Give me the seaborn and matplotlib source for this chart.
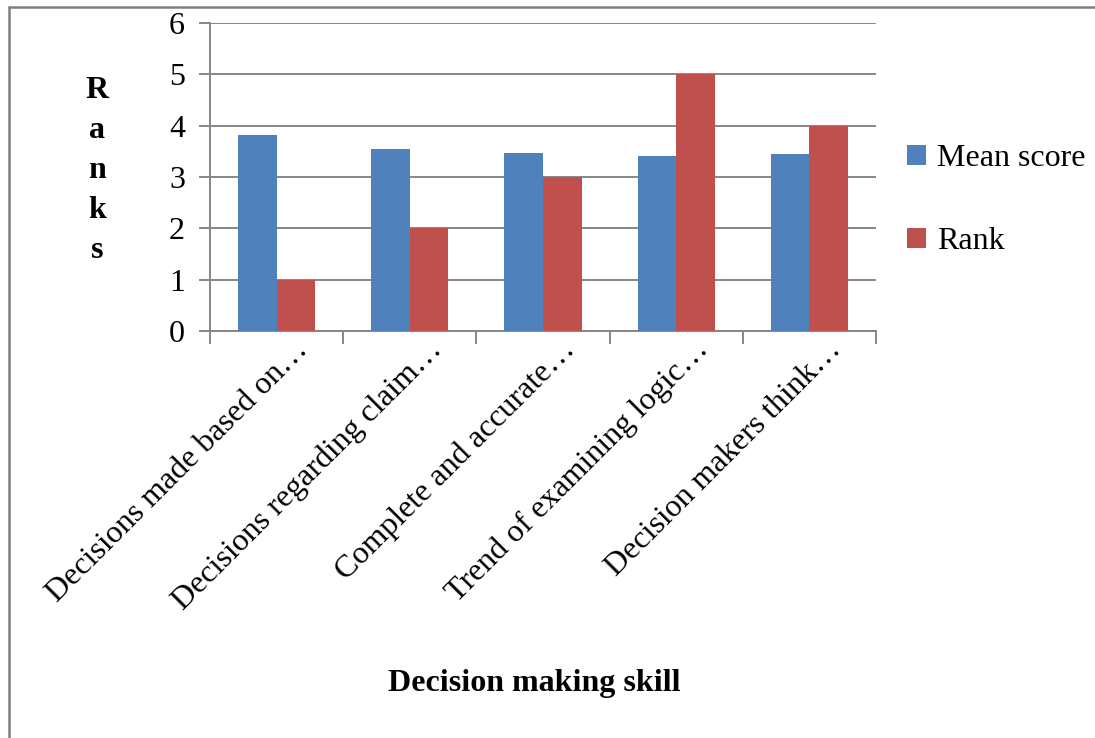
import matplotlib
matplotlib.use("Agg")
import matplotlib.pyplot as plt
import matplotlib.transforms as mtransforms
from matplotlib.patches import Patch
import numpy as np
import pandas as pd
import seaborn as sns

# Skill items and their scores
skills = [
    "Decisions made based on\u2026",
    "Decisions regarding claim\u2026",
    "Complete and accurate\u2026",
    "Trend of examining logic\u2026",
    "Decision makers think\u2026",
]
mean_score = [3.82, 3.55, 3.47, 3.40, 3.45]
rank = [1, 2, 3, 5, 4]
series_names = ["Mean score", "Rank"]
y_ticks = [0, 1, 2, 3, 4, 5, 6]

df = pd.DataFrame({
    "skill": skills * 2,
    "value": mean_score + rank,
    "series": [series_names[0]] * len(skills) + [series_names[1]] * len(skills),
})

sns.set_theme(style="white")
plt.rcParams["font.family"] = ["Liberation Serif", "DejaVu Serif"]
plt.rcParams["text.color"] = "black"
plt.rcParams["xtick.color"] = "black"
plt.rcParams["ytick.color"] = "black"

FS = 23
palette = {"Mean score": "#4F81BD", "Rank": "#C0504D"}
grid_col = "#878787"

fig = plt.figure(figsize=(10.95, 7.38), dpi=100)
ax = fig.add_axes([210 / 1095, 1 - 331 / 738, (876 - 210) / 1095, (331 - 23) / 738])

sns.barplot(data=df, x="skill", y="value", hue="series", palette=palette,
            width=0.58, saturation=1, ax=ax, legend=False, zorder=3,
            linewidth=0, edgecolor="none")

ax.set_ylim(0, 6)
ax.set_xlim(-0.5, len(skills) - 0.5)
ax.set_yticks(y_ticks)
ax.set_yticklabels([str(t) for t in y_ticks], fontsize=FS)
ax.yaxis.grid(True, color=grid_col, linewidth=1.4, zorder=0)
ax.set_axisbelow(True)

for s in ["top", "right"]:
    ax.spines[s].set_visible(False)
for s in ["left", "bottom"]:
    ax.spines[s].set_color(grid_col)
    ax.spines[s].set_linewidth(1.4)

ax.tick_params(axis="y", which="major", direction="out", length=8, width=1.4,
               color=grid_col, labelcolor="black", pad=10, left=True)

# Category separators as minor ticks; labels sit on the major positions
ax.set_xticks(np.arange(len(skills)))
ax.set_xticks(np.arange(-0.5, len(skills), 1.0), minor=True)
ax.tick_params(axis="x", which="major", length=0, pad=0, labelcolor="black")
ax.tick_params(axis="x", which="minor", direction="out", length=9, width=1.4,
               color=grid_col, bottom=True)
ax.set_xticklabels(skills, fontsize=FS, rotation=45, ha="right", va="top",
                   rotation_mode="anchor")
shift = mtransforms.ScaledTranslation(17 / 100, -4 / 100, fig.dpi_scale_trans)
for lbl in ax.get_xticklabels():
    lbl.set_transform(lbl.get_transform() + shift)

ax.set_xlabel("")
ax.set_ylabel("")

# Stacked vertical axis title
fig.text(97 / 1095, 1 - 171 / 738, "R\na\nn\nk\ns", ha="center", va="center",
         fontsize=FS, fontweight="bold", linespacing=1.5)
fig.text(534 / 1095, 1 - 683 / 738, "Decision making skill", ha="center",
         va="center", fontsize=FS, fontweight="bold")

handles = [Patch(facecolor=palette[n], edgecolor="none") for n in series_names]
fig.legend(handles, series_names, loc="upper left",
           bbox_to_anchor=(907 / 1095, 1 - 144 / 738), frameon=False,
           fontsize=FS, handlelength=0.6, handleheight=0.6, handletextpad=0.35,
           labelspacing=1.7, borderpad=0, borderaxespad=0)

# Outer frame of the chart area
fig.add_artist(plt.Line2D([9 / 1095, 9 / 1095], [0, 1 - 7 / 738],
                          transform=fig.transFigure, color="#7f7f7f", lw=1.8))
fig.add_artist(plt.Line2D([9 / 1095, 1], [1 - 7 / 738, 1 - 7 / 738],
                          transform=fig.transFigure, color="#7f7f7f", lw=1.8))

fig.savefig("out.png", dpi=100)
